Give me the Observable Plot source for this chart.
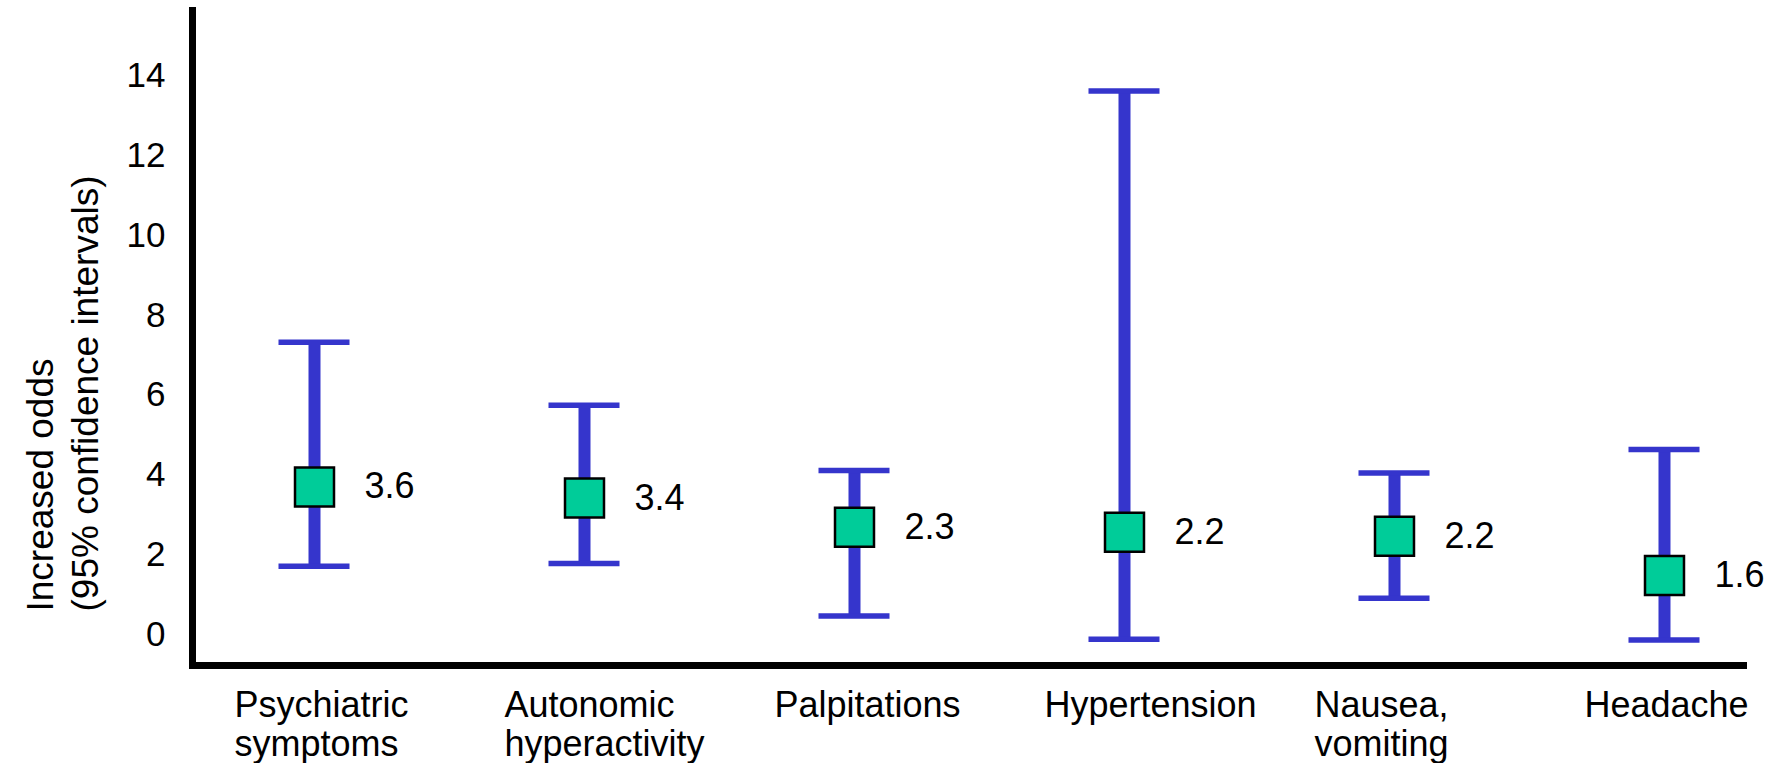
<!DOCTYPE html>
<html>
<head>
<meta charset="utf-8">
<script src="https://cdn.jsdelivr.net/npm/d3@7"></script>
<script src="https://cdn.jsdelivr.net/npm/@observablehq/plot@0.6"></script>
<style>
  html, body { margin: 0; padding: 0; background: #ffffff; }
  #chart svg { display: block; }
</style>
</head>
<body>
<div id="chart"></div>
<script>
// Categories and tick labels
const categories = ["Psychiatric symptoms", "Autonomic hyperactivity", "Palpitations", "Hypertension", "Nausea, vomiting", "Headache"];
const tickLabels = ["Psychiatric\nsymptoms", "Autonomic\nhyperactivity", "Palpitations", "Hypertension", "Nausea,\nvomiting", "Headache"];
// Confidence interval bounds and point estimates (as drawn)
const lower    = [1.71, 1.78, 0.46, -0.12, 0.91, -0.14];
const upper    = [7.33, 5.75, 4.11, 13.63, 4.05, 4.64];
const estimate = [3.70, 3.42, 2.69, 2.56, 2.46, 1.48];
const valueLabels = ["3.6", "3.4", "2.3", "2.2", "2.2", "1.6"];
const yTicks = [0, 2, 4, 6, 8, 10, 12, 14];
const yTitle = "Increased odds\n(95% confidence intervals)";

const data = categories.map((c, i) => ({
  category: c, lo: lower[i], hi: upper[i], est: estimate[i], label: valueLabels[i]
}));
const tickMap = new Map(categories.map((c, i) => [c, tickLabels[i]]));

const blue = "#3535cc";
const green = "#00cc99";

const chart = Plot.plot({
  width: 1772,
  height: 763,
  marginTop: 10,
  marginBottom: 98,
  marginLeft: 192,
  marginRight: 29,
  style: {fontFamily: "'Liberation Sans', Arial, Helvetica, sans-serif", color: "#000", background: "#fff"},
  x: {type: "band", domain: categories, paddingInner: 0.737, paddingOuter: 0, insetLeft: 86.5, insetRight: 43.5, round: false},
  y: {domain: [-0.78, 15.65]},
  marks: [
    Plot.frame({anchor: "left", stroke: "#000", strokeWidth: 7}),
    Plot.frame({anchor: "bottom", stroke: "#000", strokeWidth: 7}),
    Plot.axisY({ticks: yTicks, tickSize: 0, tickPadding: 27, fontSize: 35, label: null}),
    Plot.axisX({tickSize: 0, tickPadding: 23, textAnchor: "start", dx: -80, fontSize: 36, lineHeight: 1.1,
      tickFormat: d => tickMap.get(d), label: null}),
    Plot.text([yTitle], {frameAnchor: "bottom-left", rotate: -90, textAnchor: "start", lineAnchor: "top",
      dx: -172, dy: -54, fontSize: 37, lineHeight: 1.22, fill: "#000"}),
    Plot.ruleX(data, {x: "category", y1: "lo", y2: "hi", stroke: blue, strokeWidth: 12}),
    Plot.tickY(data, {x: "category", y: "lo", stroke: blue, strokeWidth: 5.5}),
    Plot.tickY(data, {x: "category", y: "hi", stroke: blue, strokeWidth: 5.5}),
    Plot.dot(data, {x: "category", y: "est", symbol: "square", r: 22, fill: green, stroke: "#000", strokeWidth: 2.5}),
    Plot.text(data, {x: "category", y: "est", text: "label", textAnchor: "start", dx: 50, fontSize: 36, fill: "#000"})
  ]
});
document.getElementById("chart").appendChild(chart);
</script>
</body>
</html>
